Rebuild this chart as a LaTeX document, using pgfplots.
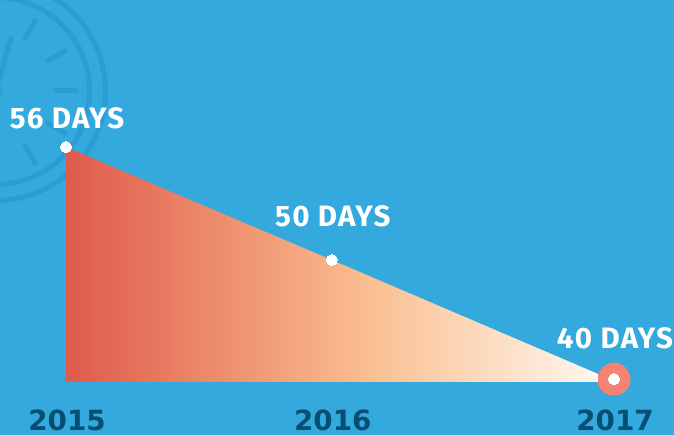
\documentclass[border=0pt]{standalone}
\usepackage{fontspec}
\setmainfont{DejaVu Sans}
\newfontfamily\labelfont[LetterSpace=4.5]{Fira Sans}
\usepackage{pgfplots}
\usepackage{pgfplotstable}
\pgfplotsset{compat=1.18}

\definecolor{bgblue}{HTML}{33A9DD}
\definecolor{clockblue}{HTML}{2A9DD2}
\definecolor{yeardark}{HTML}{064F72}
\definecolor{salmon}{HTML}{F58273}

\pgfdeclarehorizontalshading{fade}{100bp}{
  rgb(0bp)=(0.875,0.353,0.294);
  rgb(25bp)=(0.875,0.353,0.294);
  rgb(52.5bp)=(0.980,0.749,0.565);
  rgb(75bp)=(1,0.98,0.96);
  rgb(100bp)=(1,0.98,0.96)
}

% px positions are not to scale in the original, hence the piecewise y axis
\pgfplotstableread{
x y dy label
2015 56 29 {56 DAYS}
2015.97 50 44 {50 DAYS}
2017 40 41 {40 DAYS}
}\daystable

\begin{document}
\begin{tikzpicture}
\path[use as bounding box] (0,0) rectangle (674pt,435pt);
\fill[bgblue] (0,0) rectangle (674pt,435pt);

% clock in the background
\begin{scope}
\clip (0,0) rectangle (674pt,435pt);
\begin{scope}[shift={(0,435pt)},x=1pt,y=-1pt,draw=clockblue,line cap=round,line width=5pt]
\draw (-4,91) circle (109.5);
\draw (-4,91) circle (93.5);
\draw (56,91) -- (76,91);
\draw (48,61) -- (65,51);
\draw (25,38) -- (35,21);
\draw (48,123) -- (65,133);
\draw (25,146) -- (35,163);
\draw (-4,91) -- (11,38);
\fill[clockblue] (-4,91) circle (6);
\end{scope}
\end{scope}

\begin{axis}[
    at={(0,0)},
    anchor=south west,
    scale only axis,
    width=674pt,
    height=435pt,
    xmin=2014.759,
    xmax=2017.219,
    ymin=35.294,
    ymax=63.805,
    y coord trafo/.code={\pgfmathparse{#1>=50 ? 175+(#1-50)*113/6 : 175+(#1-50)*11.9}},
    axis line style={draw=none},
    tick style={draw=none},
    ytick=\empty,
    xtick={2015,2015.97,2017},
    xticklabels={2015,2016,2017},
    xticklabel style={font=\bfseries\fontsize{27.8}{28}\selectfont,text=yeardark,anchor=base,inner sep=0pt,yshift=4.5pt,xshift=1pt},
    clip=false,
]
\addplot[draw=none,shading=fade] coordinates {
    (2015,39.75) (2015,56) (2015.97,50) (2017,39.85) (2017,39.75)
} -- cycle;
\addplot[only marks,mark=*,mark size=16pt,draw=salmon,fill=salmon,mark options={solid,draw=salmon,fill=salmon,line width=0pt}]
    coordinates {(2017,40)};
\addplot[only marks,mark=*,mark size=5.5pt,draw=white,fill=white,mark options={solid,draw=white,fill=white,line width=0pt},
    visualization depends on={\thisrow{dy} \as \dy},
    point meta=explicit symbolic,
    nodes near coords,
    every node near coord/.append style={
        font=\labelfont\bfseries\fontsize{29.5}{30}\selectfont,
        text=white,anchor=center,inner sep=0pt,yshift=\dy pt,xshift=1pt},
] table[x=x,y=y,meta=label] {\daystable};
\end{axis}
\end{tikzpicture}
\end{document}
